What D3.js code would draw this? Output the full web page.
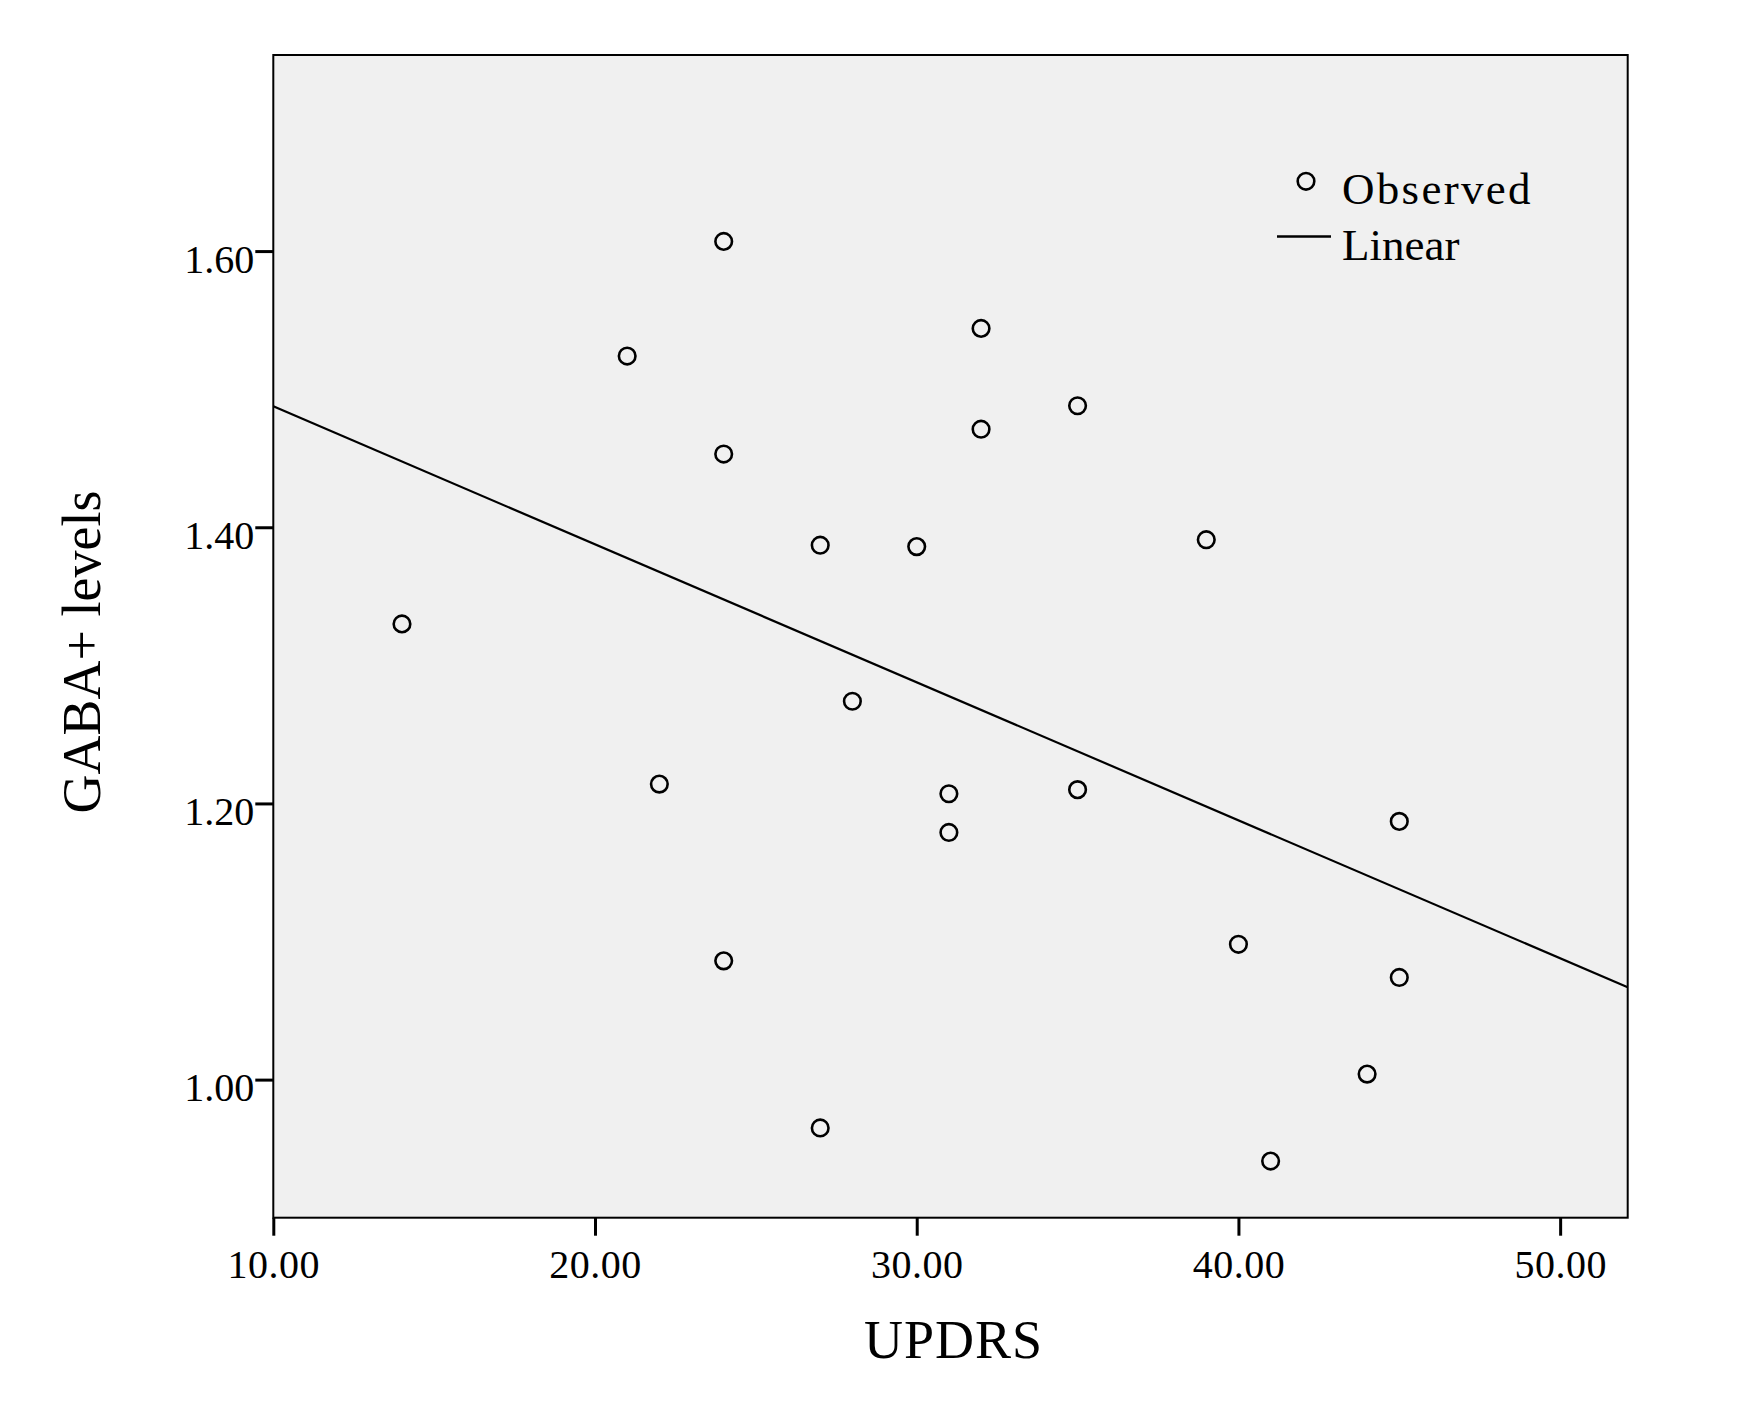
<!DOCTYPE html>
<meta charset="utf-8">
<style>
  body { margin:0; background:#fff; }
  text { font-family:"Liberation Serif", "DejaVu Serif", serif; fill:#000; }
</style>
<svg width="1744" height="1417"></svg>
<script src="https://cdn.jsdelivr.net/npm/d3@7"></script>
<script>

// UPDRS score per patient and the matching GABA+ level
var updrs = [14, 21, 22, 24, 24, 24, 27, 27, 28, 30, 31, 31, 32, 32, 35, 35, 39, 40, 41, 44, 45, 45];
var gaba  = [1.330, 1.524, 1.214, 1.607, 1.453, 1.086, 1.387, 0.965, 1.274, 1.386, 1.207, 1.179,
             1.544, 1.471, 1.488, 1.210, 1.391, 1.098, 0.941, 1.004, 1.187, 1.074];
var xTicks = [10, 20, 30, 40, 50];
var yTicks = [1.00, 1.20, 1.40, 1.60];
var legendItems = ["Observed", "Linear"];

var svg = d3.select("svg"),
    pLeft = 273.3, pRight = 1627.7, pTop = 55, pBottom = 1217.7;

var x = d3.scaleLinear().domain([10, 52.1]).range([pLeft, pRight]);
var y = d3.scaleLinear().domain([0.9, 1.742]).range([pBottom, pTop]);

svg.append("rect")
    .attr("x", pLeft).attr("y", pTop)
    .attr("width", pRight - pLeft).attr("height", pBottom - pTop)
    .attr("fill", "#f0f0f0");

// least squares fit
var mx = d3.mean(updrs), my = d3.mean(gaba);
var sxy = d3.sum(updrs, function(d, i) { return (d - mx) * (gaba[i] - my); });
var sxx = d3.sum(updrs, function(d) { return (d - mx) * (d - mx); });
var slope = sxy / sxx, icept = my - slope * mx;
var xd = x.domain();

svg.append("line")
    .attr("x1", x(xd[0])).attr("y1", y(icept + slope * xd[0]))
    .attr("x2", x(xd[1])).attr("y2", y(icept + slope * xd[1]))
    .attr("stroke", "#000").attr("stroke-width", 2.2);

svg.append("g")
  .selectAll("circle")
  .data(updrs)
  .enter().append("circle")
    .attr("cx", function(d) { return x(d); })
    .attr("cy", function(d, i) { return y(gaba[i]); })
    .attr("r", 8.3)
    .attr("fill", "none")
    .attr("stroke", "#000")
    .attr("stroke-width", 2.6);

svg.append("rect")
    .attr("x", pLeft).attr("y", pTop)
    .attr("width", pRight - pLeft).attr("height", pBottom - pTop)
    .attr("fill", "none").attr("stroke", "#000").attr("stroke-width", 2);

var xAxis = svg.append("g")
    .attr("transform", "translate(0," + pBottom + ")")
    .call(d3.axisBottom(x).tickValues(xTicks).tickSize(18).tickSizeOuter(0).tickFormat(d3.format(".2f")));
xAxis.select(".domain").remove();
xAxis.selectAll(".tick line").attr("stroke-width", 3);
xAxis.selectAll(".tick text")
    .attr("y", 60).attr("dy", 0)
    .style("font-size", "40px")
    .style("letter-spacing", "0.5px")
    .style("font-family", "Liberation Serif");

var yAxis = svg.append("g")
    .attr("transform", "translate(" + pLeft + ",0)")
    .call(d3.axisLeft(y).tickValues(yTicks).tickSize(18).tickSizeOuter(0).tickFormat(d3.format(".2f")));
yAxis.select(".domain").remove();
yAxis.selectAll(".tick line").attr("stroke-width", 3);
yAxis.selectAll(".tick text")
    .attr("x", -19).attr("dy", 21)
    .style("font-size", "40px")
    .style("font-family", "Liberation Serif");

svg.append("text")
    .attr("x", (pLeft + pRight) / 2 + 3).attr("y", 1358)
    .attr("text-anchor", "middle")
    .style("font-size", "54px")
    .style("letter-spacing", "1px")
    .text("UPDRS");

svg.append("text")
    .attr("transform", "translate(100,652)rotate(-90)")
    .attr("text-anchor", "middle")
    .style("font-size", "54px")
    .text("GABA+ levels");

// legend
var legend = svg.append("g");
legend.append("circle")
    .attr("cx", 1306).attr("cy", 181.3)
    .attr("r", 8.3)
    .attr("fill", "none").attr("stroke", "#000").attr("stroke-width", 2.6);
legend.append("line")
    .attr("x1", 1277).attr("x2", 1331)
    .attr("y1", 236.5).attr("y2", 236.5)
    .attr("stroke", "#000").attr("stroke-width", 2.7);
legend.selectAll("text")
  .data(legendItems)
  .enter().append("text")
    .attr("x", 1342)
    .attr("y", function(d, i) { return 204 + i * 55.5; })
    .style("font-size", "45px")
    .style("letter-spacing", function(d, i) { return i === 0 ? "2.3px" : "0px"; })
    .text(function(d) { return d; });

</script>
